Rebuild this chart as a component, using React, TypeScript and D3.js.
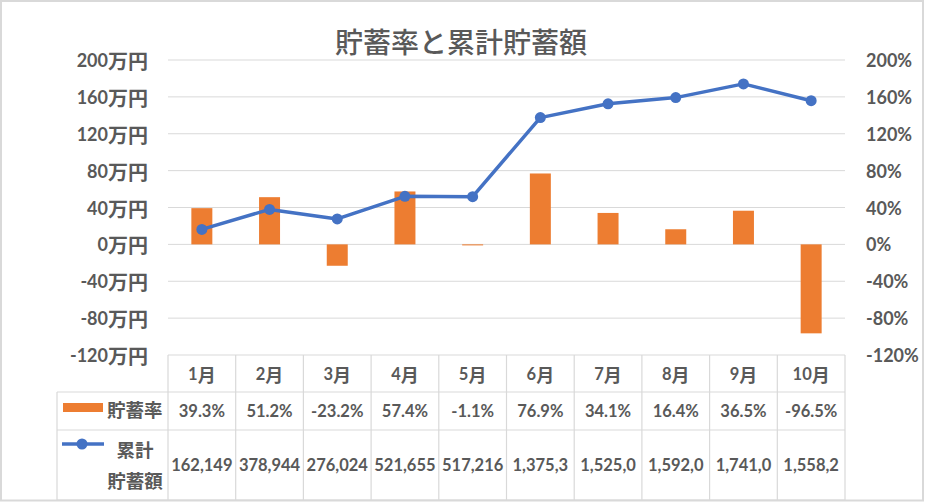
import React from "react";
import * as d3 from "d3";

// chart data
const months = ["1月", "2月", "3月", "4月", "5月", "6月", "7月", "8月", "9月", "10月"];
const savingRate = [0.393, 0.512, -0.232, 0.574, -0.011, 0.769, 0.341, 0.164, 0.365, -0.965];
const cumulative = [162149, 378944, 276024, 521655, 517216, 1375300, 1525000, 1592000, 1741000, 1558200];
// what the data table actually shows (Excel cuts the long numbers)
const cumulativeLabels = ["162,149", "378,944", "276,024", "521,655", "517,216", "1,375,3", "1,525,0", "1,592,0", "1,741,0", "1,558,2"];
const leftTicks = [2000000, 1600000, 1200000, 800000, 400000, 0, -400000, -800000, -1200000];
const rightTicks = [2.0, 1.6, 1.2, 0.8, 0.4, 0, -0.4, -0.8, -1.2];

const W = 925;
const H = 502;
const TEXT = "#595959";
const GRID = "#D9D9D9";
const ORANGE = "#ED7D31";
const BLUE = "#4472C4";
const LATIN = "Lato, 'Noto Sans', sans-serif";
const CJK = "'Noto Sans CJK JP', sans-serif";

const plot = { left: 168, right: 845, top: 60, bottom: 355 };
const table = { legendLeft: 57, rows: [355, 392, 430, 500] };

// split text into latin / cjk runs so each gets its own font
function Mixed({ text, latinSize, cjkSize }: { text: string; latinSize: number; cjkSize: number }) {
  const runs = text.match(/[\u3000-\u9fff\uff00-\uffef]+|[^\u3000-\u9fff\uff00-\uffef]+/g) || [];
  return (
    <>
      {runs.map((r, i) => {
        const isCjk = /[\u3000-\u9fff\uff00-\uffef]/.test(r);
        return (
          <tspan key={i} fontFamily={isCjk ? CJK : LATIN} fontSize={isCjk ? cjkSize : latinSize}>
            {r}
          </tspan>
        );
      })}
    </>
  );
}

export default function App() {
  const xCols = d3.scaleBand<string>().domain(months).range([plot.left, plot.right]).padding(0);
  const xBars = d3
    .scaleBand<string>()
    .domain(months)
    .range([plot.left, plot.right])
    .paddingInner(0.69)
    .paddingOuter(0.345);
  const yLeft = d3.scaleLinear().domain([-1200000, 2000000]).range([plot.bottom, plot.top]);
  const yRight = d3.scaleLinear().domain([-1.2, 2.0]).range([plot.bottom, plot.top]);

  const line = d3
    .line<number>()
    .x((_, i) => xCols(months[i])! + xCols.bandwidth() / 2)
    .y((d) => yLeft(d));

  const rowMid = (r: number) => (table.rows[r] + table.rows[r + 1]) / 2;

  return (
    <svg width={W} height={H} style={{ position: "absolute", left: 0, top: 0, background: "#fff" }}>
      <rect x={1} y={1} width={W - 3} height={H - 2.5} fill="#fff" stroke={GRID} strokeWidth={2} />

      {/* title */}
      <text x={461} y={41} textAnchor="middle" dominantBaseline="central" fill={TEXT}
        fontFamily={CJK} fontSize={28} fontWeight={500}>
        貯蓄率と累計貯蓄額
      </text>

      {/* gridlines */}
      {leftTicks.filter((t) => t !== -1200000).map((t) => (
        <line key={t} x1={plot.left} x2={plot.right} y1={yLeft(t)} y2={yLeft(t)} stroke={GRID} strokeWidth={1} />
      ))}

      {/* left axis */}
      {leftTicks.map((t) => (
        <text key={t} x={148} y={yLeft(t)} textAnchor="end" dominantBaseline="central" fill={TEXT} fontWeight={700}>
          <Mixed text={`${t / 10000}万円`} latinSize={18} cjkSize={20} />
        </text>
      ))}

      {/* right axis */}
      {rightTicks.map((t) => (
        <text key={t} x={866} y={yRight(t)} dominantBaseline="central" fill={TEXT} fontWeight={700}
          fontFamily={LATIN} fontSize={18}>
          {`${Math.round(t * 100)}%`}
        </text>
      ))}

      {/* bars */}
      {savingRate.map((v, i) => (
        <rect key={months[i]} x={xBars(months[i])} width={xBars.bandwidth()}
          y={Math.min(yRight(v), yRight(0))} height={Math.abs(yRight(v) - yRight(0))} fill={ORANGE} />
      ))}

      {/* cumulative line */}
      <path d={line(cumulative) || ""} fill="none" stroke={BLUE} strokeWidth={3.5} strokeLinejoin="round" />
      {cumulative.map((v, i) => (
        <circle key={months[i]} cx={xCols(months[i])! + xCols.bandwidth() / 2} cy={yLeft(v)} r={5.5} fill={BLUE} />
      ))}

      {/* data table */}
      <g stroke={GRID} strokeWidth={1.2}>
        <line x1={plot.left} x2={plot.right} y1={table.rows[0]} y2={table.rows[0]} />
        {table.rows.slice(1).map((y) => (
          <line key={y} x1={table.legendLeft} x2={plot.right} y1={y} y2={y} />
        ))}
        <line x1={table.legendLeft} x2={table.legendLeft} y1={table.rows[1]} y2={table.rows[3]} />
        {months.map((m) => (
          <line key={m} x1={xCols(m)} x2={xCols(m)} y1={table.rows[0]} y2={table.rows[3]} />
        ))}
        <line x1={plot.right} x2={plot.right} y1={table.rows[0]} y2={table.rows[3]} />
      </g>

      {months.map((m, i) => {
        const cx = xCols(m)! + xCols.bandwidth() / 2;
        return (
          <g key={m} fill={TEXT} fontWeight={700} textAnchor="middle">
            <text x={cx} y={rowMid(0)} dominantBaseline="central">
              <Mixed text={m} latinSize={16.5} cjkSize={18} />
            </text>
            <text x={cx} y={rowMid(1)} dominantBaseline="central" fontFamily={LATIN} fontSize={16.5}>
              {`${(savingRate[i] * 100).toFixed(1)}%`}
            </text>
            <text x={cx} y={rowMid(2)} dominantBaseline="central" fontFamily={LATIN} fontSize={16.5}>
              {cumulativeLabels[i]}
            </text>
          </g>
        );
      })}

      {/* table legend keys */}
      <rect x={63} y={403} width={40} height={9} fill={ORANGE} />
      <text x={107} y={409} dominantBaseline="central" fill={TEXT} fontFamily={CJK} fontSize={18.5} fontWeight={700}>
        貯蓄率
      </text>
      <line x1={62} x2={104} y1={444} y2={444} stroke={BLUE} strokeWidth={3.5} />
      <circle cx={82} cy={444} r={5.5} fill={BLUE} />
      <text x={135} y={449} textAnchor="middle" dominantBaseline="central" fill={TEXT} fontFamily={CJK} fontSize={18.5} fontWeight={700}>
        累計
      </text>
      <text x={135} y={480} textAnchor="middle" dominantBaseline="central" fill={TEXT} fontFamily={CJK} fontSize={18.5} fontWeight={700}>
        貯蓄額
      </text>
    </svg>
  );
}
